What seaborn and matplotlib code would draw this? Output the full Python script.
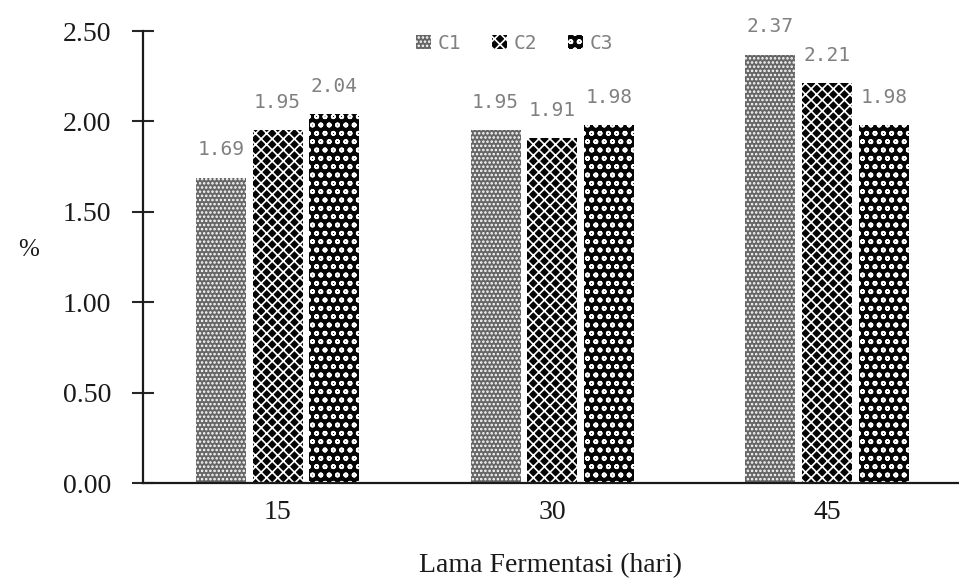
import matplotlib
matplotlib.use("Agg")
import matplotlib.pyplot as plt
import seaborn as sns
import pandas as pd

# Fermentation time (days) and measured percentages per treatment
days = ["15", "30", "45"]
series = ["C1", "C2", "C3"]
c1 = [1.69, 1.95, 2.37]
c2 = [1.95, 1.91, 2.21]
c3 = [2.04, 1.98, 1.98]
yticks = [0.0, 0.5, 1.0, 1.5, 2.0, 2.5]

df = pd.DataFrame({
    "hari": days * 3,
    "seri": [s for s in series for _ in days],
    "nilai": c1 + c2 + c3,
})

sns.set_theme(style="white")
plt.rcParams["hatch.linewidth"] = 1.2

fig = plt.figure(figsize=(9.59, 5.85), dpi=100)
ax = fig.add_axes([0.149, 0.174, 0.851, 0.773])

sns.barplot(data=df, x="hari", y="nilai", hue="seri", order=days,
            hue_order=series, width=0.62, gap=0.12, ax=ax,
            palette=["#666666", "#050505", "#050505"], saturation=1,
            errorbar=None, legend=True)

hatches = {"C1": "....", "C2": "xxx", "C3": "oo"}


def style_patch(patch, name):
    patch.set_hatch(hatches[name])
    patch.set_edgecolor("white")
    patch.set_linewidth(0)


for cont, name in zip(ax.containers, series):
    for bar in cont:
        style_patch(bar, name)
    ax.bar_label(cont, labels=[f"{v:.2f}" for v in cont.datavalues],
                 padding=13, fontsize=14, color="#808080",
                 family="DejaVu Sans Mono")

ax.set_ylim(0, 2.5)
ax.set_xlim(-0.49, 2.48)
ax.set_yticks(yticks)
ax.set_yticklabels([f"{t:.2f}" for t in yticks], family="Liberation Serif",
                   fontsize=20, color="#1a1a1a")
ax.set_xticks(range(len(days)))
ax.set_xticklabels(days, family="Liberation Serif", fontsize=20, color="#1a1a1a")
ax.tick_params(axis="y", direction="inout", length=16, width=1.5, pad=15, left=True)
ax.tick_params(axis="x", length=0, pad=12)

for side in ["top", "right"]:
    ax.spines[side].set_visible(False)
for side in ["left", "bottom"]:
    ax.spines[side].set_color("#1a1a1a")
    ax.spines[side].set_linewidth(1.6)

ax.set_xlabel("Lama Fermentasi (hari)", family="Liberation Serif",
              fontsize=20, color="#1a1a1a", labelpad=20)
ax.set_ylabel("%", family="Liberation Serif", fontsize=18, color="#1a1a1a",
              rotation=0, va="center", ha="center")
ax.yaxis.set_label_coords(-0.14, 0.515)

handles, labels = ax.get_legend_handles_labels()
leg = ax.legend(handles, labels, loc="center", bbox_to_anchor=(0.455, 0.973),
                ncol=3, frameon=False, handlelength=0.8, handleheight=0.8,
                handletextpad=0.3, columnspacing=1.6,
                prop={"family": "DejaVu Sans Mono", "size": 14})
for t in leg.get_texts():
    t.set_color("#808080")
for h, name in zip(leg.legend_handles, series):
    style_patch(h, name)

fig.savefig("out.png", dpi=100)
